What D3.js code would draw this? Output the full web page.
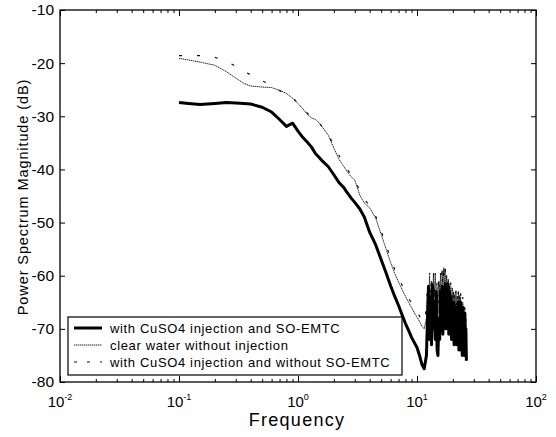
<!DOCTYPE html>
<html>
<head>
<meta charset="utf-8">
<script src="https://cdn.jsdelivr.net/npm/d3@7"></script>
<style>
  html, body { margin: 0; padding: 0; background: #fff; }
  svg { display: block; }
  text { font-family: "Liberation Sans", Arial, Helvetica, sans-serif; fill: #000; }
</style>
</head>
<body>
<svg id="chart" width="556" height="437"></svg>
<script>
// Frequency samples (Hz) shared by the three spectra
const freq = [0.1,0.12,0.15,0.2,0.25,0.3,0.35,0.4,0.5,0.6,0.7,0.8,0.9,1.0,1.1,1.2,1.3,1.4,1.5,1.6,1.8,2.0,2.2,2.4,2.6,2.8,3.0,3.3,3.6,4.0,4.5,5.0,5.5,6.0,6.5,7.0,7.5,8.0,8.5,9.0,9.5,10,10.5,11,11.5,
  12,12.25,12.5,12.75,13,13.25,13.5,13.75,14,14.25,14.5,14.75,15,15.25,15.5,15.75,16,16.25,16.5,16.75,17,17.25,17.5,17.75,18,18.25,18.5,18.75,19,19.25,19.5,19.75,20,20.25,20.5,20.75,21,21.25,21.5,21.75,22,22.25,22.5,22.75,23,23.25,23.5,23.75,24,24.25,24.5,24.75,25,25.25,25.5,25.75,26];

// Power spectrum magnitude (dB): with CuSO4 injection and SO-EMTC
const withEmtc = [-27.4,-27.6,-27.8,-27.6,-27.4,-27.5,-27.6,-27.7,-28.3,-29.2,-30.6,-31.9,-31.3,-32.8,-34.0,-34.9,-35.8,-37.0,-37.7,-38.4,-39.5,-41.0,-42.4,-43.3,-44.4,-45.4,-46.2,-47.4,-48.9,-51.8,-54.2,-57.0,-59.5,-61.9,-63.9,-65.6,-67.4,-69.0,-70.3,-71.6,-72.6,-73.5,-75.0,-76.7,-77.5,
  -75,-68,-62,-72,-64,-73,-62,-70,-65,-72,-63,-74,-75,-68,-72,-63,-70,-62,-71,-64,-69,-61.5,-70,-62,-68,-61.5,-71,-63,-70,-64,-72,-66,-71,-65,-73,-67,-72,-66,-73,-68,-72,-65,-74,-66,-72,-65,-74,-67,-75,-66,-73,-68,-75,-67,-74,-70,-76];

// Clear water without injection
const clearWater = [-19.1,-19.4,-19.8,-20.4,-21.6,-22.8,-23.8,-24.3,-24.5,-24.6,-25.1,-25.7,-26.6,-27.6,-28.6,-29.7,-30.3,-30.6,-31.2,-32.0,-33.6,-36.0,-38.0,-39.3,-40.5,-41.4,-42.0,-44.8,-46.3,-47.2,-49.2,-52.2,-55.0,-57.5,-59.6,-61.2,-62.6,-63.9,-65.0,-66.0,-67.0,-67.8,-68.6,-69.5,-70.0,
  -68,-63,-66,-60,-65,-61,-66,-59.5,-64,-60,-65,-62,-67,-61,-65,-60,-64,-59,-63,-58.5,-62,-59,-64,-60,-65,-61,-66,-62,-65,-62,-67,-63,-66,-63,-68,-64,-67,-63,-68,-64,-69,-63,-68,-64,-70,-64,-69,-65,-71,-65,-70,-66,-72,-67,-73,-69,-75];

// With CuSO4 injection and without SO-EMTC
const withoutEmtc = [-18.6,-18.6,-18.6,-18.9,-19.6,-20.6,-21.5,-22.2,-23.3,-24.2,-25.2,-25.8,-26.5,-27.5,-28.6,-29.4,-30.1,-30.6,-31.2,-32.0,-33.4,-35.5,-37.3,-38.8,-40.0,-41.0,-41.8,-44.0,-45.6,-46.8,-48.8,-51.6,-54.2,-56.8,-58.8,-60.4,-61.8,-63.0,-64.2,-65.2,-66.0,-66.8,-67.6,-68.4,-68.8,
  -66,-62,-65,-59.5,-64,-60,-65,-59,-63,-59.5,-64,-61,-66,-60,-64,-59.5,-63,-58.5,-62,-58,-61,-57.3,-63,-59.5,-64,-60,-65,-61,-64,-61,-66,-62,-65,-62,-67,-63,-66,-62.5,-67,-63,-68,-62.5,-67,-63,-69,-63,-68,-64,-70,-64,-69,-65,-71,-66,-72,-68,-74];

const seriesNames = [
  "with CuSO4 injection and SO-EMTC",
  "clear water without injection",
  "with CuSO4 injection and without SO-EMTC"
];
const yTicks = [-80,-70,-60,-50,-40,-30,-20,-10];
const xDecades = [0.01,0.1,1,10,100];
const xDecadeExp = ["-2","-1","0","1","2"];

const svg = d3.select("#chart");
const padL = 60, padR = 536, padT = 10, padB = 382;

const x = d3.scaleLog().domain([0.01, 100]).range([padL, padR]);
const y = d3.scaleLinear().domain([-80, -10]).range([padB, padT]);

// minor tick values for the log axis (2..9 within each decade)
const minor = x.ticks().filter(v => !xDecades.some(d => Math.abs(d - v) < 1e-9));

// bottom axis: inward ticks
svg.append("g").attr("transform", `translate(0,${padB})`)
  .call(d3.axisBottom(x).tickValues(minor).tickSize(-3).tickFormat(""));
svg.append("g").attr("transform", `translate(0,${padB})`)
  .call(d3.axisBottom(x).tickValues(xDecades).tickSize(-6).tickFormat(""));
// top axis: inward ticks
svg.append("g").attr("transform", `translate(0,${padT})`)
  .call(d3.axisTop(x).tickValues(minor).tickSize(-3).tickFormat(""));
svg.append("g").attr("transform", `translate(0,${padT})`)
  .call(d3.axisTop(x).tickValues(xDecades).tickSize(-6).tickFormat(""));
// left and right axes
const gL = svg.append("g").attr("transform", `translate(${padL},0)`);
gL.call(d3.axisLeft(y).tickValues(yTicks).tickSize(-5).tickFormat(d3.format("d")));
svg.append("g").attr("transform", `translate(${padR},0)`)
  .call(d3.axisRight(y).tickValues(yTicks).tickSize(-5).tickFormat(""));

svg.selectAll(".domain").remove();
svg.selectAll(".tick line").attr("stroke", "#000").attr("stroke-width", 1);

gL.selectAll(".tick text")
  .attr("font-size", 15.5)
  .attr("x", -6)
  .attr("fill", "#000")
  .style("font-family", "'Liberation Sans', Arial, sans-serif")
  .text(d => String(d));

// decade labels with superscript exponents
svg.append("g").selectAll("text")
  .data(xDecades)
  .join("text")
  .attr("x", d => x(d))
  .attr("y", padB + 25)
  .attr("text-anchor", "middle")
  .attr("font-size", 15)
  .each(function(d, i) {
    const t = d3.select(this);
    t.append("tspan").text("10");
    t.append("tspan").attr("font-size", 9).attr("dy", -7).text(xDecadeExp[i]);
  });

// frame
svg.append("rect")
  .attr("x", padL).attr("y", padT)
  .attr("width", padR - padL).attr("height", padB - padT)
  .attr("fill", "none").attr("stroke", "#000").attr("stroke-width", 1.3);

// spectra
const line = d3.line().x((d, i) => x(freq[i])).y(d => y(d));

svg.append("path").datum(clearWater)
  .attr("d", line).attr("fill", "none")
  .attr("stroke", "#222").attr("stroke-width", 1)
  .attr("stroke-dasharray", "1.4,0.6");

svg.append("path").datum(withoutEmtc)
  .attr("d", line).attr("fill", "none")
  .attr("stroke", "#111").attr("stroke-width", 1.2)
  .attr("stroke-dasharray", "3,15");

svg.append("path").datum(withEmtc)
  .attr("d", line).attr("fill", "none")
  .attr("stroke", "#000").attr("stroke-width", 3)
  .attr("stroke-linejoin", "round");

// axis titles
svg.append("text")
  .attr("x", 297).attr("y", 426)
  .attr("text-anchor", "middle")
  .attr("font-size", 18)
  .attr("letter-spacing", 1.3)
  .text("Frequency");

svg.append("text")
  .attr("transform", "translate(28,197) rotate(-90)")
  .attr("text-anchor", "middle")
  .attr("font-size", 14.5)
  .attr("letter-spacing", 0.9)
  .text("Power Spectrum Magnitude (dB)");

// legend
const lg = svg.append("g");
lg.append("rect")
  .attr("x", 68).attr("y", 317).attr("width", 334).attr("height", 58)
  .attr("fill", "#fff").attr("stroke", "#000").attr("stroke-width", 1.2);
const legendStyles = [
  { w: 3, dash: null, color: "#000" },
  { w: 1, dash: "1.4,0.6", color: "#222" },
  { w: 1.2, dash: "3,10", color: "#111" }
];
const rowY = [328, 345, 362];
seriesNames.forEach((name, i) => {
  lg.append("line")
    .attr("x1", 74).attr("x2", 102)
    .attr("y1", rowY[i]).attr("y2", rowY[i])
    .attr("stroke", legendStyles[i].color)
    .attr("stroke-width", legendStyles[i].w)
    .attr("stroke-dasharray", legendStyles[i].dash);
  lg.append("text")
    .attr("x", 110).attr("y", rowY[i] + 4.5)
    .attr("font-size", 13)
    .attr("letter-spacing", 0.65)
    .text(name);
});
</script>
</body>
</html>
